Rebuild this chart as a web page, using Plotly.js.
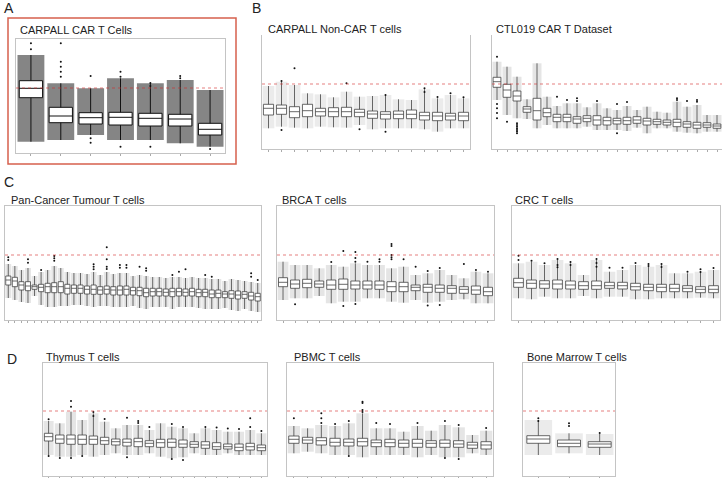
<!DOCTYPE html>
<html>
<head>
<meta charset="utf-8">
<script src="https://cdn.plot.ly/plotly-3.0.1.min.js"></script>
<style>
  html, body { margin: 0; padding: 0; background: #fff; }
  #chart { width: 722px; height: 478px; }
</style>
</head>
<body>
<div id="chart"></div>
<script>
// Значения в условных единицах (0 = низ рамки), порог = 65
const threshold = 65;

// A: CARPALL CAR T Cells
const aHi  = [98, 69.7, 64.7, 74.7, 69.7, 73, 63];
const aQ3  = [72.3, 45.7, 40.3, 40.7, 39.7, 38.7, 29.7];
const aMed = [64.7, 37, 35.3, 35.7, 34.7, 34, 23.7];
const aQ1  = [55.3, 30.3, 29, 28, 27, 27, 18];
const aLo  = [11.3, 13, 18, 13, 13, 9.7, 6.3];
const aOut = [[0,109.7],[0,103.7],[1,109.7],[1,91.3],[1,86.3],[1,81.3],[1,76.3],[2,77],[2,14.7],[2,10.3],
              [3,81.3],[3,76.3],[3,6.3],[4,70],[4,67],[4,6.3],[5,77],[5,74.7],[6,4]];

// B: CARPALL Non-CAR T cells
const bHi  = [63, 67.3, 64, 55.7, 54.7, 51.7, 57.3, 52.3, 53, 54, 49.7, 49, 59.7, 50.7, 54, 50.7];
const bQ3  = [44.7, 44, 42.3, 44.7, 40.7, 41.3, 41.7, 39.7, 38, 37.3, 38, 39, 36.7, 36.7, 35.7, 36.7];
const bMed = [40.7, 40.7, 37.3, 38.3, 37.3, 37.3, 37.3, 36.7, 35, 34.7, 34.7, 34.7, 33.3, 33, 33, 33];
const bQ1  = [34, 34.7, 31.3, 32.3, 33, 32.3, 32.3, 32.3, 30.7, 30, 30.3, 30.3, 29, 28.3, 29, 28.3];
const bLo  = [20.7, 22.3, 21.3, 20.7, 22.3, 21.7, 21.3, 24, 19.7, 20.7, 20.7, 20.7, 19.7, 17.3, 20.7, 20.7];
const bOut = [[1,68],[1,19],[2,80.7],[6,65.7],[7,19.7],[9,17.3],[9,54],[12,60.7],[12,57],[13,52],[14,55.7],[15,51.7]];

// B: CTL019 CAR T Dataset
const cHi  = [87.3, 82.3, 72.3, 49.7, 85.7, 52.3, 43, 45.7, 45.7, 41.7, 45.7, 40.7, 39, 43, 39, 42.3, 37.3, 36.3, 47.3, 42.3, 44, 34, 34];
const cQ3  = [71.7, 64.7, 58, 42.3, 50.7, 40.7, 34.7, 34.7, 32.3, 33.3, 33.3, 31.7, 30.7, 31.7, 32.3, 30.7, 29.7, 29, 29.7, 27.3, 26.7, 26.3, 25];
const cMed = [67.3, 59, 53, 40, 38.3, 36.3, 31.7, 31.7, 30, 30.7, 29, 28.3, 28.3, 28.3, 29, 28, 27.3, 26.7, 26.7, 25, 24, 24, 23];
const cQ1  = [61.7, 51.7, 48, 36.7, 29, 32.3, 27.3, 27.3, 25.7, 27.3, 24, 24, 25, 24.7, 25.7, 24, 24.7, 24, 22.3, 21.7, 20.7, 21.7, 20.7];
const cLo  = [49, 34, 30.7, 30, 20.7, 24, 20.7, 20.7, 20.7, 22.3, 19, 19, 19, 18, 21.3, 15.7, 20.7, 20.7, 17.3, 16.3, 15.7, 17.3, 17.3];
const cOut = [[0,92.3],[0,45],[0,40.7],[0,36],[0,30.7],[1,27.3],[2,25.7],[2,24],[2,22.3],[2,20.5],[2,19],[2,17.5],[2,15.7],
              [6,52.3],[7,49],[8,50.7],[8,48],[10,48],[12,45],[12,15.7],[13,47],[18,50.7],[18,49],[19,48],[20,49],[20,47.3]];

// C: Pan-Cancer Tumour T cells
const pHi  = [56, 54, 50, 52, 44, 48, 50, 54, 52, 48, 47, 47, 46, 48, 45, 48, 46, 47, 47, 44, 45, 44, 43, 43, 42, 43, 43, 42, 43, 42, 42, 41, 41, 39, 41, 40, 39, 38, 37];
const pQ3  = [44, 42.7, 38.3, 38.3, 35, 35.7, 36.7, 37.3, 38.3, 35.7, 35, 35, 34, 35, 33.3, 34, 33.3, 34, 34, 32.7, 32.7, 31.7, 31.7, 31.7, 31, 31.7, 31.7, 31, 31.7, 30.7, 30.7, 30, 30, 28.3, 29.3, 29, 28.3, 27.7, 26.7];
const pMed = [40, 39, 35, 34, 33.3, 32.7, 33.3, 33.3, 33.3, 31.7, 31.7, 31.7, 30.7, 30.7, 30, 30.7, 30, 30, 30.7, 29.3, 29.3, 27.3, 28.3, 28.3, 27.7, 28.3, 28.3, 27.7, 28.3, 27.3, 27.7, 26, 26.7, 26, 26, 25, 25.7, 24, 23.3];
const pQ1  = [35, 33.3, 30, 29.3, 30.7, 28.3, 27.3, 27.3, 27.3, 26, 26.7, 26.7, 26, 25.7, 25.7, 26, 25, 25, 25, 25, 24.3, 23.3, 24, 24, 24, 23.3, 24, 24, 24, 23.3, 23.3, 22.3, 22.3, 22.3, 21.7, 21, 21.7, 20, 19];
const pLo  = [22, 20, 18, 17, 24, 15, 13, 13, 14, 14, 15, 15, 14, 13, 14, 14, 13, 13, 13, 14, 12, 11, 13, 13, 13, 11, 13, 13, 13, 12, 11, 11, 11, 12, 10, 9, 11, 9, 8];
const pOut = [[0,62.7],[0,60],[3,60.7],[3,57.3],[5,50],[7,64],[7,61.7],[7,59.3],[13,55.7],[13,53.3],[13,50.7],
              [15,72.7],[15,60.7],[15,53.3],[15,51],[17,55],[17,52.3],[18,55],[18,52.3],[20,53.3],[21,51.7],[21,49.3],
              [25,45],[26,48.3],[27,50.7],[30,45],[31,43.3],[37,46.7],[37,43.3],[38,40]];

// C: BRCA T cells
const rHi  = [58.3, 55, 55, 51.7, 55, 53.3, 56.7, 55, 55, 51.7, 53.3, 45, 46.7, 50, 45, 41.7, 48.3, 46.7];
const rQ3  = [42.3, 40, 40.7, 39, 40, 41, 39, 39, 39, 38.3, 37.7, 35, 35.7, 35, 34.3, 33.3, 34, 32.7];
const rMed = [37.7, 36, 36.7, 36, 35, 35.7, 35, 35, 35, 33.3, 33.3, 32.7, 32.7, 31.7, 31.7, 30.7, 30, 28.3];
const rQ1  = [33.3, 31.7, 32.3, 32.7, 30.7, 30.7, 31, 31, 30.7, 28.3, 28.3, 29.3, 27.7, 27.7, 26.7, 26.7, 25.7, 24.3];
const rLo  = [20, 21.7, 21.7, 24, 16.7, 18.3, 18.3, 21.7, 21.7, 18.3, 17.3, 20, 17.3, 18.3, 20, 20.7, 16.7, 16.7];
const rOut = [[1,15.7],[4,58],[5,69],[5,14],[6,68],[6,62],[6,58.3],[6,16],[7,58.3],[8,58.3],[8,60.7],
              [9,76],[9,74],[9,65],[9,62.7],[9,60.7],[10,60.7],[11,53.3],[12,49],[12,14.5],[13,52],[13,15],[15,56],[16,50],[17,48.3]];

// C: CRC T cells
const kHi  = [56.7, 58.3, 55, 60, 56.7, 45, 60, 48.3, 50, 55, 53.3, 55, 46.7, 46.7, 48.3, 50];
const kQ3  = [41.7, 40, 39.3, 40, 39, 38.3, 39, 37.7, 37.7, 36.7, 35.7, 35.7, 35.7, 34.3, 33.3, 34.3];
const kMed = [37.3, 36.7, 36, 36, 35, 34.3, 34.3, 34.3, 34.3, 33.3, 32.7, 32.7, 31.7, 31.7, 30.7, 30.7];
const kQ1  = [32.7, 31.7, 31.7, 31, 31, 30.7, 30.7, 31.7, 31, 30, 29.3, 28.3, 28.3, 28.3, 27.3, 27.3];
const kLo  = [21.7, 20.7, 23.3, 21.7, 21.7, 24, 21.7, 23.3, 23.3, 20.7, 20.7, 21.7, 21.7, 21.7, 22.3, 21.7];
const kOut = [[0,64.3],[0,60],[1,59.3],[2,56.7],[3,61],[3,55],[3,52.7],[4,58],[4,55],[6,61],[6,57],[6,53.3],
              [7,52.3],[8,52.3],[9,57],[10,56],[10,54],[11,56],[11,53],[13,48.3],[14,50.7],[14,48],[15,52]];

// D: Thymus T cells
const tHi  = [55, 52.7, 64.3, 56, 62.7, 54.3, 47.7, 51, 51, 46, 52.7, 49.3, 47.7, 42.7, 47.7, 46, 44.3, 44.3, 46, 42.7];
const tQ3  = [42.7, 41, 41, 41, 40, 38.7, 37, 37, 37.7, 35.3, 36.7, 37, 36, 34.3, 34.3, 33.3, 32, 32, 32.7, 31];
const tMed = [39.3, 37, 37, 36.7, 36.7, 35.3, 34.3, 33.7, 34.3, 32.7, 33.3, 33.7, 32, 31.7, 31, 29.3, 29.3, 28.7, 29.3, 28.3];
const tQ1  = [35, 32.7, 31.7, 31.7, 31.7, 31.7, 31, 30, 29.3, 29.3, 28.7, 28.7, 28.7, 28.7, 27.7, 26.7, 27, 25.3, 26, 25.3];
const tLo  = [21, 19.3, 19.3, 21, 19.3, 21, 22.7, 21, 21, 22.7, 19.3, 17.7, 18.7, 22.7, 21, 21, 22.7, 21, 21, 21];
const tOut = [[0,56.7],[0,20],[1,18],[2,75],[2,69.3],[2,18],[3,20],[4,64],[4,60],[5,57],[7,58.3],[7,18.7],
              [8,55],[8,53],[9,49],[11,52],[11,17],[12,49],[12,16],[14,49],[15,48.5],[16,47.5],[17,47],[18,57.7],[18,49],[19,45]];

// D: PBMC T cells
const mHi  = [50, 47.7, 51, 50, 52.7, 62.7, 47.7, 47.7, 44.3, 50, 45.3, 51, 48.7, 41, 45.3];
const mQ3  = [40, 38.7, 38.3, 37.7, 37, 37.7, 36, 36.7, 36, 36.7, 35.3, 36, 35.3, 33.7, 34.3];
const mMed = [36.7, 36, 35.3, 33.7, 33.7, 34.3, 33.3, 33.3, 32.7, 32.7, 32.7, 32.7, 32, 31, 31];
const mQ1  = [32.7, 32.7, 31, 30, 30, 30, 29.3, 29.3, 28.7, 28.7, 28.7, 28.7, 28.7, 27.7, 27];
const mLo  = [22.7, 24.3, 22.7, 21, 21, 18.7, 21, 21, 21, 18.7, 21, 18.7, 18.7, 22.7, 21];
const mOut = [[0,57.7],[2,62.7],[2,57.7],[2,53],[3,52],[4,55],[4,20],[5,74.3],[5,73],[5,66],[5,64],
              [6,53],[7,52],[9,53],[11,55],[11,18],[12,51],[12,17],[14,48]];

// D: Bone Marrow T cells
const nHi  = [56, 42.7, 42];
const nQ3  = [40.3, 36, 34.3];
const nMed = [37, 32.7, 32];
const nQ1  = [32.7, 29.3, 28.7];
const nLo  = [21, 22.7, 21];
const nOut = [[0,57.7],[0,55],[1,52.7],[1,50],[2,43]];

const W = 722, H = 478;
const FONT = 'Liberation Sans, Arial, Helvetica, sans-serif';

// rect: [x0, x1, yTop, yBottom] в пикселях
const panels = [
  {title: 'CARPALL CAR T Cells', hi: aHi, q3: aQ3, med: aMed, q1: aQ1, lo: aLo, out: aOut,
   rect: [16, 225, 39, 153], tx: 18, ty: 29.5, cloud: 'rgba(0,0,0,0.48)', bw: 0.78, line: '#111', lw: 1, top: true, right: true},
  {title: 'CARPALL Non-CAR T cells', hi: bHi, q3: bQ3, med: bMed, q1: bQ1, lo: bLo, out: bOut,
   rect: [262, 470, 35, 149], tx: 266, ty: 28.5, cloud: 'rgba(0,0,0,0.08)', bw: 0.78, line: '#444', lw: 0.8, top: false, right: true},
  {title: 'CTL019 CAR T Dataset', hi: cHi, q3: cQ3, med: cMed, q1: cQ1, lo: cLo, out: cOut,
   rect: [492, 722, 35, 149], tx: 494, ty: 28.5, cloud: 'rgba(0,0,0,0.1)', bw: 0.78, line: '#444', lw: 0.8, top: false, right: false},
  {title: 'Pan-Cancer Tumour T cells', hi: pHi, q3: pQ3, med: pMed, q1: pQ1, lo: pLo, out: pOut,
   rect: [5, 261, 206, 320], tx: 9, ty: 200, cloud: 'rgba(0,0,0,0.1)', bw: 0.78, line: '#444', lw: 0.8, top: true, right: true},
  {title: 'BRCA T cells', hi: rHi, q3: rQ3, med: rMed, q1: rQ1, lo: rLo, out: rOut,
   rect: [277, 494, 206, 320], tx: 280, ty: 200, cloud: 'rgba(0,0,0,0.1)', bw: 0.75, line: '#444', lw: 0.8, top: true, right: true},
  {title: 'CRC T cells', hi: kHi, q3: kQ3, med: kMed, q1: kQ1, lo: kLo, out: kOut,
   rect: [512, 720, 206, 320], tx: 513, ty: 200, cloud: 'rgba(0,0,0,0.09)', bw: 0.75, line: '#444', lw: 0.8, top: true, right: true},
  {title: 'Thymus T cells', hi: tHi, q3: tQ3, med: tMed, q1: tQ1, lo: tLo, out: tOut,
   rect: [43, 267, 363, 476], tx: 44, ty: 356.5, cloud: 'rgba(0,0,0,0.1)', bw: 0.75, line: '#444', lw: 0.8, top: true, right: true},
  {title: 'PBMC T cells', hi: mHi, q3: mQ3, med: mMed, q1: mQ1, lo: mLo, out: mOut,
   rect: [287, 493, 363, 476], tx: 292, ty: 356.5, cloud: 'rgba(0,0,0,0.1)', bw: 0.75, line: '#444', lw: 0.8, top: true, right: true},
  {title: 'Bone Marrow T cells', hi: nHi, q3: nQ3, med: nMed, q1: nQ1, lo: nLo, out: nOut,
   rect: [523, 615, 363, 476], tx: 525, ty: 356.5, cloud: 'rgba(0,0,0,0.08)', bw: 0.75, line: '#444', lw: 0.8, top: true, right: true}
];

const letters = [['A', 2, 8], ['B', 250, 8], ['C', 2, 182], ['D', 5, 359]];

const data = [];
const layout = {
  width: W, height: H,
  margin: {l: 0, r: 0, t: 0, b: 0, pad: 0},
  paper_bgcolor: '#fff', plot_bgcolor: 'rgba(0,0,0,0)',
  showlegend: false,
  barmode: 'overlay',
  shapes: [], annotations: []
};

panels.forEach((p, i) => {
  const k = i === 0 ? '' : String(i + 1);
  const xa = 'x' + k, ya = 'y' + k;
  const n = p.med.length;
  const idx = p.med.map((_, j) => j);
  const [x0, x1, yt, yb] = p.rect;

  // облако точек (полупрозрачная полоса по размаху усов)
  data.push({
    type: 'bar', x: idx, base: p.lo, y: p.hi.map((v, j) => v - p.lo[j]),
    width: 0.9, marker: {color: p.cloud, line: {width: 0}},
    xaxis: xa, yaxis: ya, hoverinfo: 'skip'
  });
  data.push({
    type: 'box', x: idx, q1: p.q1, median: p.med, q3: p.q3,
    lowerfence: p.lo, upperfence: p.hi, boxpoints: false,
    width: p.bw, whiskerwidth: 0, fillcolor: '#fff',
    line: {color: p.line, width: p.lw},
    xaxis: xa, yaxis: ya, hoverinfo: 'skip'
  });
  data.push({
    type: 'scatter', mode: 'markers',
    x: p.out.map(o => o[0]), y: p.out.map(o => o[1]),
    marker: {size: 2, color: '#111'},
    xaxis: xa, yaxis: ya, hoverinfo: 'skip'
  });

  layout['xaxis' + k] = {
    domain: [x0 / W, x1 / W], anchor: ya,
    range: [-0.5, n - 0.5], tickvals: idx, showticklabels: false,
    ticks: 'outside', ticklen: 2, tickcolor: '#aaa', tickwidth: 1,
    showline: true, linecolor: '#c4c4c4', linewidth: 1, mirror: p.top,
    showgrid: false, zeroline: false, fixedrange: true
  };
  layout['yaxis' + k] = {
    domain: [1 - yb / H, 1 - yt / H], anchor: xa,
    range: [0, yb - yt], showticklabels: false, ticks: '',
    showline: true, linecolor: '#c4c4c4', linewidth: 1, mirror: p.right,
    showgrid: false, zeroline: false, fixedrange: true
  };

  layout.shapes.push({
    type: 'line', xref: xa + ' domain', yref: ya,
    x0: 0, x1: 1, y0: threshold, y1: threshold,
    line: {color: '#d42a2a', width: 0.6, dash: 'dot'}
  });

  layout.annotations.push({
    text: p.title, xref: 'paper', yref: 'paper',
    x: p.tx / W, y: 1 - p.ty / H, xanchor: 'left', yanchor: 'middle',
    showarrow: false, font: {family: FONT, size: 11, color: '#222'}
  });
});

letters.forEach(([t, x, y]) => {
  layout.annotations.push({
    text: t, xref: 'paper', yref: 'paper', x: x / W, y: 1 - y / H,
    xanchor: 'left', yanchor: 'middle', showarrow: false,
    font: {family: FONT, size: 14, color: '#222'}
  });
});

// красная рамка вокруг панели A
layout.shapes.push({
  type: 'rect', xref: 'paper', yref: 'paper',
  x0: 8 / W, x1: 236 / W, y0: 1 - 164 / H, y1: 1 - 18 / H,
  line: {color: '#d6604d', width: 1.5}
});

Plotly.newPlot('chart', data, layout, {displayModeBar: false, staticPlot: true});
</script>
</body>
</html>
